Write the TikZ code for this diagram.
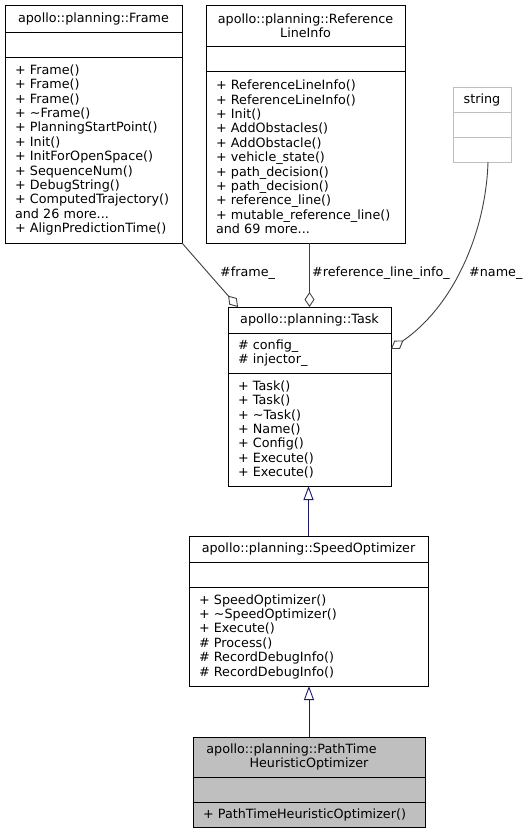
\documentclass[tikz,border=0pt]{standalone}
\usepackage{fontspec}
\setmainfont{DejaVu Sans}
\usepackage{xcolor}
\usepackage{tikz}
\usetikzlibrary{arrows.meta, positioning}
\definecolor{grey25}{HTML}{404040}
\definecolor{grey75}{HTML}{BFBFBF}
\definecolor{midblue}{RGB}{25,25,112}
\newcommand{\umlfont}{\fontsize{12.75}{14.4}\selectfont}

\begin{document}
\begin{tikzpicture}[x=1pt, y=-1pt,
    part/.style={draw, line width=1pt, inner sep=0pt, outer sep=0pt, font=\umlfont},
    head/.style={part, anchor=north west, align=center},
    body/.style={part, align=left, inner xsep=10pt},
    hilite/.style={fill=grey75},
    extern/.style={draw=grey75},
    lbl/.style={anchor=west, inner sep=0pt, font=\umlfont},
    agg/.style={draw=grey25, line width=0.9pt, -{Diamond[open, length=15pt, width=10pt]}},
    inherit/.style={draw=midblue, line width=0.9pt, -{Triangle[open, length=14pt, width=10pt]}}
]
    \useasboundingbox (0,0) rectangle (529,833);

    % Frame
    \node[head, minimum width=177, minimum height=27] (frame) at (5,5) {apollo::planning::Frame};
    \node[body, text width=157, minimum height=25, below=0pt of frame] (frame-a) {};
    \node[body, text width=157, minimum height=186, below=0pt of frame-a] (frame-m) {+ Frame()\\+ Frame()\\+ Frame()\\+ \textasciitilde Frame()\\+ PlanningStartPoint()\\+ Init()\\+ InitForOpenSpace()\\+ SequenceNum()\\+ DebugString()\\+ ComputedTrajectory()\\and 26 more...\\+ AlignPredictionTime()};

    % ReferenceLineInfo
    \node[head, minimum width=199, minimum height=41] (refli) at (206,5) {apollo::planning::Reference\\LineInfo};
    \node[body, text width=179, minimum height=25, below=0pt of refli] (refli-a) {};
    \node[body, text width=179, minimum height=172, below=0pt of refli-a] (refli-m) {+ ReferenceLineInfo()\\+ ReferenceLineInfo()\\+ Init()\\+ AddObstacles()\\+ AddObstacle()\\+ vehicle\_state()\\+ path\_decision()\\+ path\_decision()\\+ reference\_line()\\+ mutable\_reference\_line()\\and 69 more...};

    % string
    \node[head, extern, minimum width=58, minimum height=25] (str) at (453,87) {string};
    \node[body, extern, text width=38, minimum height=25, below=0pt of str] (str-a) {};
    \node[body, extern, text width=38, minimum height=25, below=0pt of str-a] (str-m) {};

    % Task
    \node[head, minimum width=163, minimum height=26] (task) at (228,307) {apollo::planning::Task};
    \node[body, text width=143, minimum height=40, below=0pt of task] (task-a) {\# config\_\\\# injector\_};
    \node[body, text width=143, minimum height=113, below=0pt of task-a] (task-m) {+ Task()\\+ Task()\\+ \textasciitilde Task()\\+ Name()\\+ Config()\\+ Execute()\\+ Execute()};

    % SpeedOptimizer
    \node[head, minimum width=239, minimum height=26] (spd) at (189,536) {apollo::planning::SpeedOptimizer};
    \node[body, text width=219, minimum height=25, below=0pt of spd] (spd-a) {};
    \node[body, text width=219, minimum height=99, below=0pt of spd-a] (spd-m) {+ SpeedOptimizer()\\+ \textasciitilde SpeedOptimizer()\\+ Execute()\\\# Process()\\\# RecordDebugInfo()\\\# RecordDebugInfo()};

    % PathTimeHeuristicOptimizer
    \node[head, hilite, minimum width=232, minimum height=40] (pth) at (193,737) {apollo::planning::PathTime\hspace*{35pt}\\HeuristicOptimizer};
    \node[body, hilite, text width=212, minimum height=25, below=0pt of pth] (pth-a) {};
    \node[body, hilite, text width=212, minimum height=25, below=0pt of pth-a] (pth-m) {+ PathTimeHeuristicOptimizer()};

    % members
    \draw[agg] (frame-m.south east) -- ([xshift=10pt]task.north west);
    \draw[agg] (task.north |- refli-m.south) -- (task.north);
    \draw[agg] ([xshift=6pt]str-m.south) .. controls (486,230) and (455,305) .. ([yshift=4pt]task-a.east);
    \node[lbl] (l-frame) at (220,273) {\#frame\_};
    \node[lbl] (l-ref) at (312,273) {\#reference\_line\_info\_};
    \node[lbl] (l-name) at (469,273) {\#name\_};

    % inheritance
    \draw[inherit] (spd.north) -- (spd.north |- task-m.south);
    \draw[inherit] (pth.north) -- (pth.north |- spd-m.south);
\end{tikzpicture}
\end{document}
